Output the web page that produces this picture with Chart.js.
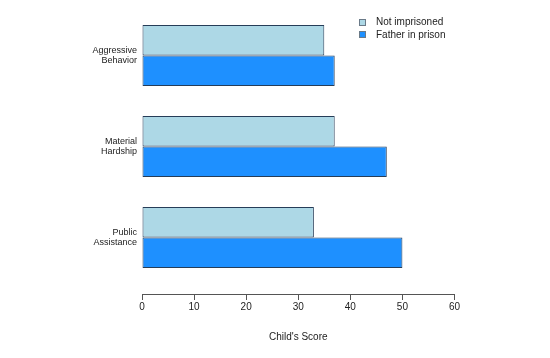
<!DOCTYPE html>
<html>
<head>
<meta charset="utf-8">
<script src="https://cdn.jsdelivr.net/npm/chart.js@4"></script>
<style>
  body { margin: 0; background: #fff; }
  #wrap { position: relative; width: 550px; height: 358px; }
  #legend { position: absolute; left: 359px; top: 16px; margin: 0; padding: 0; list-style: none;
            font: 10px "Liberation Sans", Arial, sans-serif; color: #222; }
  #legend li { height: 12.5px; line-height: 12.5px; white-space: nowrap; }
  #legend i { display: inline-block; box-sizing: border-box; width: 7px; height: 7px;
              border: 1px solid #6a7a88; margin-right: 10px; vertical-align: -0.5px; }
</style>
</head>
<body>
<div id="wrap">
  <canvas id="chart" width="550" height="358"></canvas>
  <ul id="legend"></ul>
</div>
<script>
var categories = ['Aggressive Behavior', 'Material Hardship', 'Public Assistance'];
var seriesNames = ['Not imprisoned', 'Father in prison'];
var notImprisoned = [35, 37, 33];
var fatherInPrison = [37, 47, 50];
var xTicks = [0, 10, 20, 30, 40, 50, 60];

var colors = ['#add8e6', '#1e90ff'];
var font = '"Liberation Sans", Arial, sans-serif';

function points(values) {
    return values.map(function(v, i) { return { x: v, y: i }; });
}

var datasets = [notImprisoned, fatherInPrison].map(function(values, i) {
    return {
        label: seriesNames[i],
        data: points(values),
        backgroundColor: colors[i],
        borderColor: '#263d58',
        borderWidth: 1,
        borderSkipped: false,
        categoryPercentage: 0.67,
        barPercentage: 1
    };
});

var chart = new Chart(document.getElementById('chart'), {
    type: 'bar',
    data: { datasets: datasets },
    options: {
        indexAxis: 'y',
        responsive: false,
        animation: false,
        devicePixelRatio: 1,
        layout: { padding: { left: 0, right: 95.5, top: 10, bottom: 0 } },
        plugins: { legend: { display: false }, tooltip: { enabled: false } },
        scales: {
            x: {
                type: 'linear',
                min: 0,
                max: 60,
                afterBuildTicks: function(scale) {
                    scale.ticks = xTicks.map(function(v) { return { value: v }; });
                },
                afterFit: function(scale) { scale.height = 64; },
                ticks: { color: '#222', padding: 1, font: { family: font, size: 10 } },
                grid: { drawOnChartArea: false, drawTicks: true, tickLength: 6, color: '#555' },
                border: { display: true, color: '#555', width: 1 },
                title: {
                    display: true,
                    text: "Child's Score",
                    color: '#222',
                    font: { family: font, size: 10 },
                    padding: { top: 0, bottom: 15 }
                }
            },
            y: {
                type: 'linear',
                offset: false,
                reverse: true,
                min: -0.5,
                max: 2.62,
                afterBuildTicks: function(scale) {
                    scale.ticks = categories.map(function(c, i) { return { value: i }; });
                },
                afterFit: function(scale) {
                    scale.width = 142;
                    scale.paddingTop = 0;
                    scale.paddingBottom = 0;
                },
                ticks: {
                    color: '#222',
                    padding: 5,
                    font: { family: font, size: 9, lineHeight: 1.15 },
                    callback: function(value) { return categories[value].split(' '); }
                },
                grid: { display: false, drawTicks: false, offset: false },
                border: { display: false }
            }
        }
    }
});

function generateLegend(id, items) {
    var legend = document.getElementById(id);
    legend.innerHTML = items.map(function(item) {
        return '<li><i style="background:' + item.backgroundColor + '"></i>' + item.label + '</li>';
    }).join('');
}

generateLegend('legend', chart.data.datasets);
</script>
</body>
</html>
